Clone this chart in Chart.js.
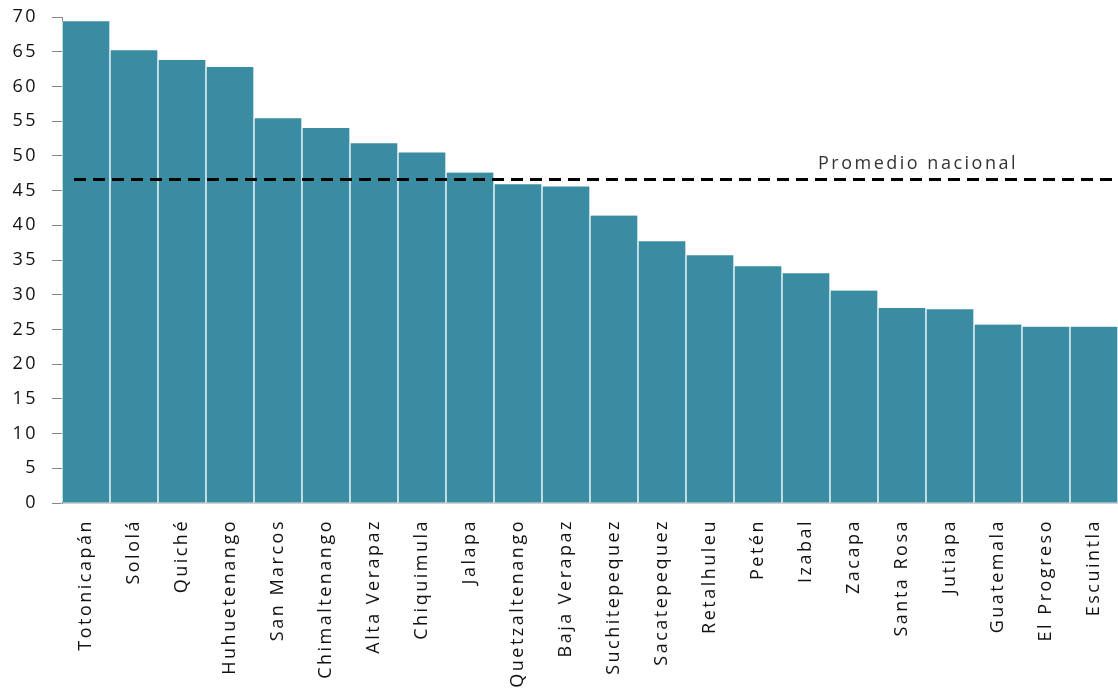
<!DOCTYPE html>
<html>
<head>
<meta charset="utf-8">
<script src="https://cdn.jsdelivr.net/npm/chart.js@4/dist/chart.umd.min.js"></script>
<style>
html,body{margin:0;padding:0;background:#fff;}
#wrap{width:1118px;height:690px;position:relative;}
</style>
</head>
<body>
<div id="wrap"><canvas id="c"></canvas></div>
<script>
const categories = ["Totonicapán","Sololá","Quiché","Huhuetenango","San Marcos","Chimaltenango","Alta Verapaz","Chiquimula","Jalapa","Quetzaltenango","Baja Verapaz","Suchitepequez","Sacatepequez","Retalhuleu","Petén","Izabal","Zacapa","Santa Rosa","Jutiapa","Guatemala","El Progreso","Escuintla"];
const values = [69.4,65.2,63.8,62.8,55.4,54.0,51.8,50.5,47.6,45.9,45.6,41.4,37.7,35.7,34.1,33.1,30.6,28.1,27.9,25.7,25.4,25.4];
const nationalAverage = 46.6;
const averageLabel = "Promedio nacional";
const yTicks = [0,5,10,15,20,25,30,35,40,45,50,55,60,65,70];

const FONT = "'Open Sans', 'DejaVu Sans', sans-serif";
const SPACING = '2.5px';

const spacingPlugin = {
  id: 'spacing',
  beforeDraw(chart) { chart.ctx.letterSpacing = SPACING; },
  afterDraw(chart) { chart.ctx.letterSpacing = '0px'; }
};

const avgLine = {
  id: 'avgLine',
  afterDatasetsDraw(chart) {
    const {ctx, chartArea, scales} = chart;
    const y = scales.y.getPixelForValue(nationalAverage);
    ctx.save();
    ctx.strokeStyle = '#000';
    ctx.lineWidth = 3;
    ctx.setLineDash([12, 7]);
    ctx.beginPath();
    ctx.moveTo(chartArea.left + 12, y);
    ctx.lineTo(chartArea.right, y);
    ctx.stroke();
    ctx.setLineDash([]);
    ctx.fillStyle = '#333';
    ctx.font = "18px " + FONT;
    ctx.letterSpacing = SPACING;
    ctx.textAlign = 'left';
    ctx.textBaseline = 'bottom';
    ctx.fillText(averageLabel, 818, y - 7);
    ctx.restore();
  }
};

new Chart(document.getElementById('c'), {
  type: 'bar',
  data: {
    labels: categories,
    datasets: [{
      data: values,
      backgroundColor: '#3a8ca2',
      borderColor: '#ffffff',
      borderWidth: {left: 1, right: 1, top: 0, bottom: 0},
      borderSkipped: false,
      barPercentage: 1,
      categoryPercentage: 1
    }]
  },
  options: {
    responsive: true,
    maintainAspectRatio: false,
    animation: false,
    layout: {padding: {top: 17, right: 0, left: 0, bottom: 0}},
    plugins: {legend: {display: false}, tooltip: {enabled: false}},
    scales: {
      x: {
        grid: {display: false},
        border: {display: true, color: '#d0d0d0', width: 2},
        ticks: {
          minRotation: 90, maxRotation: 90, autoSkip: false,
          color: '#111', font: {family: FONT, size: 18}, padding: 8
        },
        afterFit(scale) {
          scale.height = 187;
          scale.paddingLeft = 0; scale.paddingRight = 0;
          scale.paddingTop = 0; scale.paddingBottom = 0;
        }
      },
      y: {
        min: 0, max: 70,
        afterBuildTicks(scale) { scale.ticks = yTicks.map(v => ({value: v})); },
        grid: {display: true, drawOnChartArea: false, drawTicks: true, tickLength: 10, color: '#888'},
        border: {display: true, color: '#888', width: 1},
        ticks: {color: '#111', font: {family: FONT, size: 18}, padding: 14},
        afterFit(scale) {
          scale.width = 62;
          scale.paddingTop = 0; scale.paddingBottom = 0;
          scale.paddingLeft = 0; scale.paddingRight = 0;
        }
      }
    }
  },
  plugins: [spacingPlugin, avgLine]
});
</script>
</body>
</html>
